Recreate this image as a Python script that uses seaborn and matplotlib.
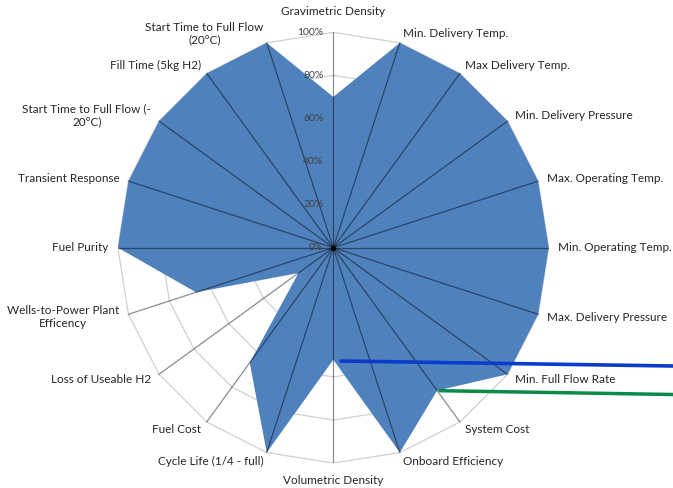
import numpy as np
import matplotlib
matplotlib.use("Agg")
import matplotlib.pyplot as plt
from matplotlib.lines import Line2D
import seaborn as sns

categories = [
    "Gravimetric Density", "Min. Delivery Temp.", "Max Delivery Temp.",
    "Min. Delivery Pressure", "Max. Operating Temp.", "Min. Operating Temp.",
    "Max. Delivery Pressure", "Min. Full Flow Rate", "System Cost",
    "Onboard Efficiency", "Volumetric Density", "Cycle Life (1/4 - full)",
    "Fuel Cost", "Loss of Useable H2", "Wells-to-Power Plant\nEfficency",
    "Fuel Purity", "Transient Response", "Start Time to Full Flow (-\n20°C)",
    "Fill Time (5kg H2)", "Start Time to Full Flow\n(20°C)",
]
values = [70, 100, 100, 100, 100, 100, 100, 100, 82, 100,
          52, 100, 66, 20, 67, 100, 100, 100, 100, 100]
tick_levels = [0, 20, 40, 60, 80, 100]
tick_labels = ["0%", "20%", "40%", "60%", "80%", "100%"]

sns.set_theme(style="white")
plt.rcParams["font.family"] = ["Lato", "DejaVu Sans"]

W, H = 673, 488
fig = plt.figure(figsize=(W / 100, H / 100), dpi=100)
cx, cy, R = 333.3, 247.7, 215.4
ax = fig.add_axes([(cx - R) / W, (H - cy - R) / H, 2 * R / W, 2 * R / H])
ax.set_xlim(-1, 1)
ax.set_ylim(-1, 1)
ax.axis("off")

n = len(categories)
theta = np.arange(n) * 2 * np.pi / n
sx, sy = np.sin(theta), np.cos(theta)

# polygon gridlines
for lv in tick_levels[1:]:
    f = lv / 100
    ax.plot(np.append(sx, sx[0]) * f, np.append(sy, sy[0]) * f,
            color="#d0d0d0", lw=0.9, zorder=1)

# filled series
v = np.array(values) / 100
ax.fill(np.append(sx * v, sx[0] * v[0]), np.append(sy * v, sy[0] * v[0]),
        color="#4F81BD", lw=0, zorder=2)

# spokes
for i in range(n):
    ax.plot([0, sx[i]], [0, sy[i]], color="black", alpha=0.45, lw=0.9, zorder=3)
sns.scatterplot(x=[0], y=[0], color="black", s=14, ax=ax, zorder=4, linewidth=0)

# value tick labels
for lv, lab in zip(tick_levels, tick_labels):
    ax.annotate(lab, xy=(0, lv / 100), xytext=(-10, 0), textcoords="offset pixels",
                ha="right", va="center", fontsize=7.5, color="#404040", zorder=5)

# category labels
for i, lab in enumerate(categories):
    s, c = sx[i], sy[i]
    if abs(s) < 0.05:
        off = (0, 21 if c > 0 else -17)
        ha = "center"
    else:
        off = (9.5 * s, 9.5 * c)
        ha = "left" if s > 0 else "right"
    ax.annotate(lab, xy=(s, c), xytext=off, textcoords="offset pixels",
                ha=ha, va="center", multialignment="center",
                fontsize=8.5, color="#262626", linespacing=1.2,
                annotation_clip=False)

# annotation lines drawn over the chart
fig.add_artist(Line2D([341 / W, 673 / W], [1 - 361 / H, 1 - 366 / H],
                      color="#0a3ccc", lw=2.6, transform=fig.transFigure))
fig.add_artist(Line2D([440 / W, 673 / W], [1 - 390.7 / H, 1 - 394.5 / H],
                      color="#0a8a4a", lw=2.5, transform=fig.transFigure))

fig.savefig("out.png", dpi=100)
